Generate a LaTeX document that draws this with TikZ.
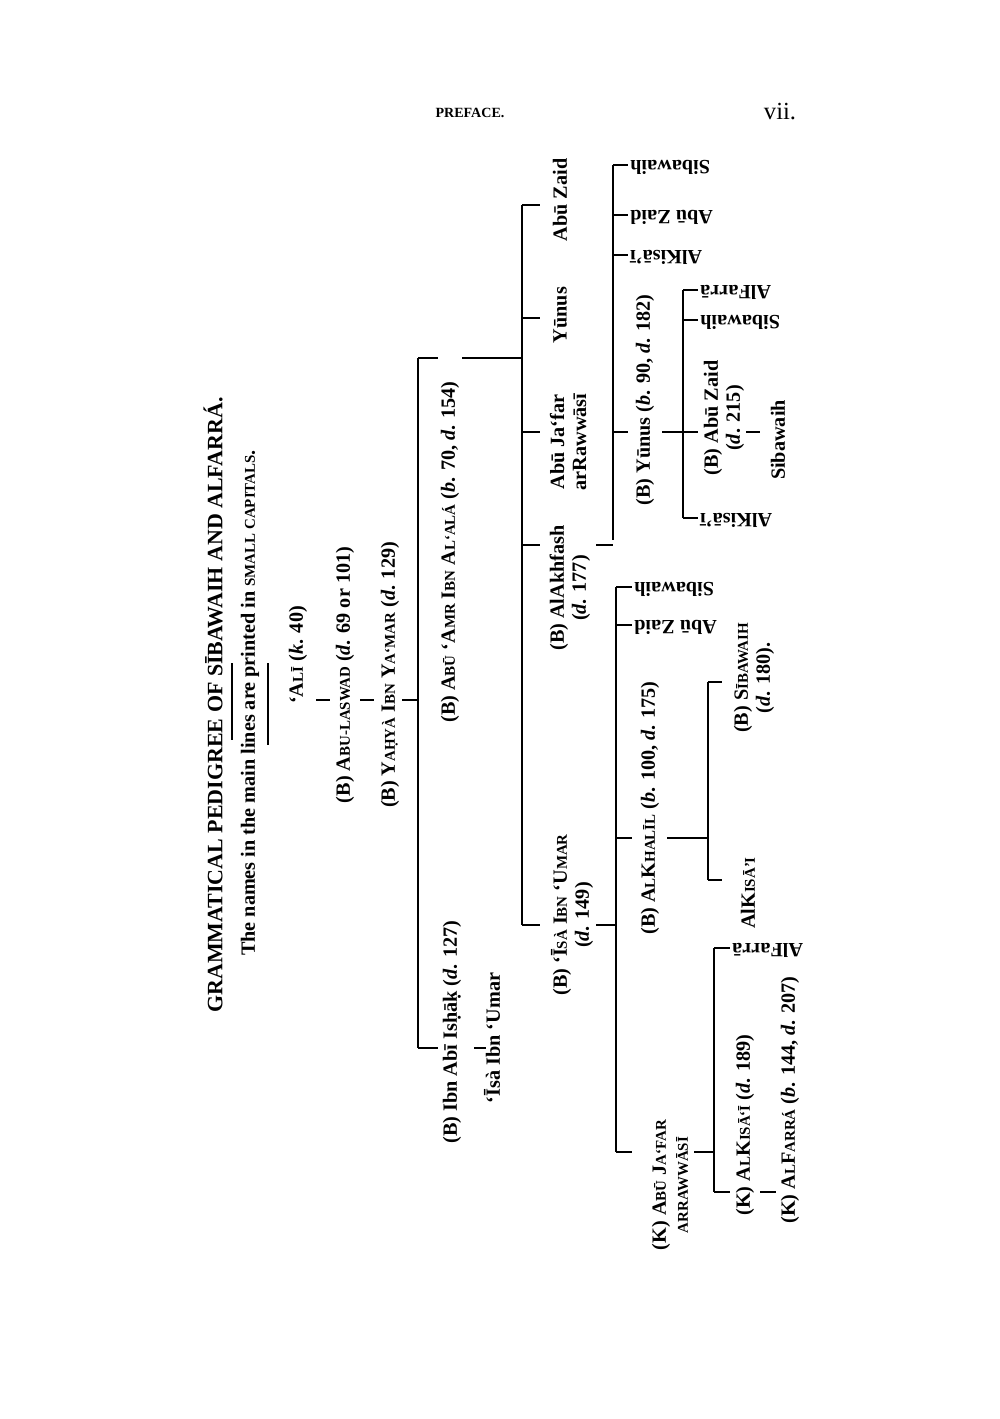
\documentclass[tikz,border=0pt]{standalone}
\usepackage{fontspec}
\setmainfont{Liberation Serif}
\newcommand{\smc}[1]{{\fontsize{8.5}{10}\selectfont #1}}
\begin{document}
\begin{tikzpicture}[x=0.02cm,y=-0.02cm,
  lab/.style={rotate=90,font=\bfseries\fontsize{11.5}{12.5}\selectfont,inner sep=0pt,align=center},
  inv/.style={rotate=180,font=\bfseries\fontsize{11.5}{12.5}\selectfont,inner sep=0pt,anchor=east},
  ln/.style={line width=0.9pt}]
\useasboundingbox (0,0) rectangle (1000,1419);
\node[font=\bfseries\fontsize{8}{9}\selectfont] (pref) at (470,113) {PREFACE.};
\node[font=\fontsize{14}{15}\selectfont] (vii) at (780,112) {vii.};
% title
\node[lab,font=\bfseries\fontsize{12.5}{14}\selectfont] (title) at (213,705) {GRAMMATICAL PEDIGREE OF SĪBAWAIH AND ALFARRÁ.};
\node[lab] (sub) at (250,703) {The names in the main lines are printed in \smc{SMALL CAPITALS}.};
\draw[ln] (232,663) -- (232,740);
\draw[ln] (268,663) -- (268,745);
% main line
\node[lab] (ali) at (298,655) {‘A\smc{LĪ} (\textit{k}. 40)};
\node[lab] (aswad) at (345,675) {(B) A\smc{BU-LASWAD} (\textit{d}. 69 or 101)};
\node[lab] (yahya) at (390,675) {(B) Y\smc{AḤYÀ} I\smc{BN} Y\smc{A‘MAR} (\textit{d}. 129)};
\draw[ln] (316,700) -- (330,700);
\draw[ln] (360,700) -- (374,700);
\draw[ln] (402,700) -- (418,700);
\draw[ln] (418,358) -- (418,1048);
\draw[ln] (418,358) -- (438,358);
\draw[ln] (418,1048) -- (438,1048);
\node[lab] (amr) at (450,552) {(B) A\smc{BŪ} ‘A\smc{MR} I\smc{BN} A\smc{L‘ALÁ} (\textit{b}. 70, \textit{d}. 154)};
\node[lab] (ibnabi) at (452,1032) {(B) Ibn Abī Isḥāḳ (\textit{d}. 127)};
\draw[ln] (474,1048) -- (486,1048);
\node[lab] (isa0) at (492,1038) {‘Īsà Ibn ‘Umar};
% Abu Amr children
\draw[line width=1.6pt] (462,358) -- (522,358);
\draw[ln] (522,205) -- (522,925);
\foreach \yy in {205,318,432,545,925} \draw[ln] (522,\yy) -- (540,\yy);
\node[lab] (abuzaid1) at (560,200) {Abū Zaid};
\node[lab] (yunus1) at (560,315) {Yūnus};
\node[lab] (jafar1) at (568,442) {Abū Ja‘far\\arRawwāsī};
\node[lab] (akhfash) at (570,588) {(B) AlAkhfash\\(\textit{d}. 177)};
\node[lab] (isa) at (572,915) {(B) ‘Ī\smc{SÀ} I\smc{BN} ‘U\smc{MAR}\\(\textit{d}. 149)};
% AlAkhfash children
\draw[ln] (596,545) -- (613,545);
\draw[ln] (613,165) -- (613,540);
\foreach \yy in {165,215,255,432} \draw[ln] (613,\yy) -- (628,\yy);
\node[inv] (s1) at (630,167) {Sibawaih};
\node[inv] (z1) at (630,217) {Abū Zaid};
\node[inv] (k1) at (630,257) {AlKisā’ī};
\node[lab] (yunus) at (645,400) {(B) Yūnus (\textit{b}. 90, \textit{d}. 182)};
\draw[ln] (662,432) -- (683,432);
\draw[ln] (683,290) -- (683,518);
\foreach \yy in {290,320,432,518} \draw[ln] (683,\yy) -- (698,\yy);
\node[inv] (f2) at (700,292) {AlFarrā};
\node[inv] (s2) at (700,322) {Sibawaih};
\node[inv] (k2) at (700,520) {AlKisā’ī};
\node[lab] (zaid2) at (724,418) {(B) Abū Zaid\\(\textit{d}. 215)};
\draw[ln] (746,432) -- (760,432);
\node[lab] (s3) at (778,440) {Sibawaih};
% Isa children
\draw[ln] (596,925) -- (616,925);
\draw[ln] (616,587) -- (616,1152);
\foreach \yy in {587,625,838,1152} \draw[ln] (616,\yy) -- (632,\yy);
\node[inv] (s4) at (634,589) {Sibawaih};
\node[inv] (z4) at (634,627) {Abū Zaid};
\node[lab] (khalil) at (650,808) {(B) A\smc{L}K\smc{HALĪL} (\textit{b}. 100, \textit{d}. 175)};
\draw[ln] (667,838) -- (708,838);
\draw[ln] (708,682) -- (708,880);
\foreach \yy in {682,880} \draw[ln] (708,\yy) -- (722,\yy);
\node[lab] (sib) at (754,678) {(B) S\smc{ĪBAWAIH}\\(\textit{d}. 180).};
\node[lab] (kis5) at (748,893) {AlK\smc{ISĀ’I}};
\node[lab] (jafar) at (670,1185) {(K) A\smc{BŪ} J\smc{A‘FAR}\\\smc{ARRAWWĀSĪ}};
\draw[ln] (694,1152) -- (714,1152);
\draw[ln] (714,948) -- (714,1192);
\foreach \yy in {948,1192} \draw[ln] (714,\yy) -- (730,\yy);
\node[inv] (f6) at (732,950) {AlFarrā};
\node[lab] (kisai) at (745,1125) {(K) A\smc{L}K\smc{ISĀ‘Ī} (\textit{d}. 189)};
\draw[ln] (760,1192) -- (776,1192);
\node[lab] (farra) at (790,1100) {(K) A\smc{L}F\smc{ARRÁ} (\textit{b}. 144, \textit{d}. 207)};
\end{tikzpicture}
\end{document}
